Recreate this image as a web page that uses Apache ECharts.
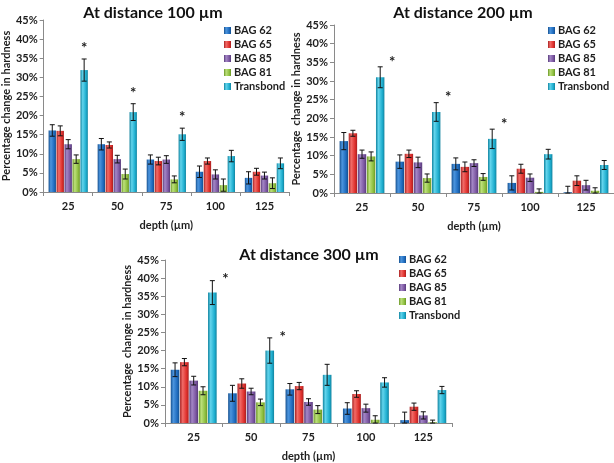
<!DOCTYPE html>
<html>
<head>
<meta charset="utf-8">
<script src="https://cdn.jsdelivr.net/npm/echarts@6/dist/echarts.min.js"></script>
<style>
  html, body { margin: 0; padding: 0; background: #fff; }
  #chart { width: 614px; height: 463px; }
</style>
</head>
<body>
<div id="chart"></div>
<script>
const depths = ["25", "50", "75", "100", "125"];
const groups = ["BAG 62", "BAG 65", "BAG 85", "BAG 81", "Transbond"];

// rows = groups, columns = depths
const mean100 = [
  [16.1, 12.5, 8.5, 5.3, 3.7],
  [16.0, 12.3, 8.1, 8.1, 5.3],
  [12.5, 8.6, 8.5, 4.6, 4.3],
  [8.6, 4.7, 3.3, 1.8, 2.3],
  [31.9, 20.9, 15.1, 9.4, 7.5]
];
const err100 = [
  [1.5, 1.5, 1.2, 1.5, 1.6],
  [1.3, 0.8, 1.0, 0.8, 0.9],
  [1.2, 1.0, 1.0, 1.2, 0.9],
  [1.1, 1.3, 0.9, 1.6, 1.4],
  [2.9, 2.2, 1.6, 1.5, 1.4]
];
const star100 = [1, 1, 1, 0, 0];

const mean200 = [
  [13.9, 8.4, 7.8, 2.7, 0.2],
  [16.0, 10.5, 7.0, 6.5, 3.3],
  [10.4, 8.2, 8.0, 4.1, 2.1],
  [9.8, 4.0, 4.3, 0.3, 0.6],
  [31.0, 21.7, 14.5, 10.4, 7.5]
];
const err200 = [
  [2.3, 1.8, 1.6, 1.9, 1.6],
  [0.8, 1.0, 1.3, 1.2, 1.3],
  [1.1, 1.4, 0.9, 1.0, 1.3],
  [1.2, 1.1, 0.9, 0.8, 0.8],
  [2.8, 2.5, 2.6, 1.3, 1.2]
];
const star200 = [1, 1, 1, 0, 0];

const mean300 = [
  [14.7, 8.2, 9.3, 4.0, 0.8],
  [16.8, 10.9, 10.2, 8.0, 4.5],
  [11.7, 8.7, 5.8, 4.1, 2.1],
  [8.9, 5.7, 3.7, 0.9, 0.2],
  [36.0, 20.0, 13.3, 11.2, 9.1]
];
const err300 = [
  [1.9, 2.2, 1.6, 1.6, 2.2],
  [1.0, 1.3, 1.0, 0.9, 1.0],
  [1.2, 0.9, 0.9, 1.1, 1.0],
  [1.1, 0.9, 1.1, 1.1, 0.6],
  [3.3, 3.5, 2.9, 1.3, 1.0]
];
const star300 = [1, 1, 0, 0, 0];

const FONT = "Lato";
const AXIS = "#8a8a8a";
const TXT = "#1e1e1e";
const BAR_GAP = 0.08;
const CAT_GAP = 0.2;

// [dark edge, highlight, base]
const colors = [
  ["#15508f", "#4c95de", "#1f6cbf"],
  ["#a82020", "#f26c68", "#df302c"],
  ["#573b7a", "#a487c6", "#7b56a1"],
  ["#6a9626", "#bde07c", "#8ebf3f"],
  ["#11839f", "#62d4ec", "#1eaecf"]
];

const panels = [
  {
    title: "At distance 100 µm", mean: mean100, err: err100, star: star100,
    grid: { left: 40, top: 20, width: 249, height: 172 },
    titleX: 148, titleY: 0,
    legend: { left: 219, top: 20 },
    yName: "Percentage change in hardness", yGap: 31,
    starDx: 0, starDy: 11
  },
  {
    title: "At distance 200 µm", mean: mean200, err: err200, star: star200,
    grid: { left: 334, top: 25, width: 280, height: 168 },
    titleX: 458, titleY: 0,
    legend: { left: 543, top: 20 },
    yName: "Percentage  change in hardness", yGap: 28,
    starDx: 12, starDy: 5
  },
  {
    title: "At distance 300 µm", mean: mean300, err: err300, star: star300,
    grid: { left: 165, top: 260, width: 287, height: 169 },
    titleX: 304, titleY: 242,
    legend: { left: 394, top: 249 },
    yName: "Percentage  change in hardness", yGap: 32,
    starDx: 13, starDy: 1
  }
];

function barColor(c) {
  return new echarts.graphic.LinearGradient(0, 0, 1, 0, [
    { offset: 0, color: c[0] },
    { offset: 0.3, color: c[1] },
    { offset: 0.75, color: c[2] },
    { offset: 1, color: c[0] }
  ]);
}

function errorRender(panel) {
  return function (params, api) {
    const cat = api.value(0);
    const v = api.value(1);
    const e = api.value(2);
    const s = api.value(3);
    const st = api.value(4);
    const band = api.size([1, 0])[0];
    const n = groups.length;
    const w = band * (1 - CAT_GAP) / (n + (n - 1) * BAR_GAP);
    const total = w * n + w * BAR_GAP * (n - 1);
    const dx = -total / 2 + s * w * (1 + BAR_GAP) + w / 2;
    const x = api.coord([cat, v])[0] + dx;
    const top = api.coord([cat, v + e])[1];
    const bot = api.coord([cat, Math.max(v - e, 0)])[1];
    const style = { stroke: "#111", lineWidth: 1 };
    const children = [
      { type: "line", shape: { x1: x, y1: top, x2: x, y2: bot }, style: style },
      { type: "line", shape: { x1: x - 2.5, y1: top, x2: x + 2.5, y2: top }, style: style },
      { type: "line", shape: { x1: x - 2.5, y1: bot, x2: x + 2.5, y2: bot }, style: style }
    ];
    if (st) {
      children.push({
        type: "text",
        style: {
          text: "*", x: x + panel.starDx, y: top - panel.starDy,
          fill: "#222", font: "bold 15px " + FONT,
          align: "center", verticalAlign: "middle"
        }
      });
    }
    return { type: "group", children: children };
  };
}

const option = {
  animation: false,
  backgroundColor: "#fff",
  title: [],
  legend: [],
  grid: [],
  xAxis: [],
  yAxis: [],
  series: []
};

panels.forEach((p, k) => {
  option.title.push({
    text: p.title, left: p.titleX, top: p.titleY, textAlign: "center",
    textStyle: { fontFamily: FONT, fontSize: 16, fontWeight: "bold", color: "#111" }
  });
  option.legend.push({
    data: groups, orient: "vertical", left: p.legend.left, top: p.legend.top,
    itemWidth: 7, itemHeight: 7, itemGap: 3, icon: "rect",
    textStyle: { fontFamily: FONT, fontSize: 11, fontWeight: "bold", color: TXT, padding: [0, 0, 0, -2] },
    selectedMode: false
  });
  option.grid.push(Object.assign({ containLabel: false }, p.grid));
  option.xAxis.push({
    type: "category", gridIndex: k, data: depths,
    name: "depth (µm)", nameLocation: "middle", nameGap: 28,
    nameTextStyle: { fontFamily: FONT, fontSize: 11, fontWeight: "bold", color: TXT },
    axisLine: { lineStyle: { color: AXIS } },
    axisTick: { show: true, length: 4, lineStyle: { color: AXIS } },
    axisLabel: { fontFamily: FONT, fontSize: 11, fontWeight: "bold", color: TXT, margin: 9 },
    splitLine: { show: false }
  });
  option.yAxis.push({
    type: "value", gridIndex: k, min: 0, max: 45, interval: 5,
    name: p.yName, nameLocation: "middle", nameGap: p.yGap,
    nameTextStyle: { fontFamily: FONT, fontSize: 11, fontWeight: "bold", color: TXT },
    axisLine: { show: true, lineStyle: { color: AXIS } },
    axisTick: { show: true, length: 4, lineStyle: { color: AXIS } },
    axisLabel: { formatter: "{value}%", fontFamily: FONT, fontSize: 11, fontWeight: "bold", color: TXT, margin: 6 },
    splitLine: { show: false }
  });
  groups.forEach((g, i) => {
    option.series.push({
      type: "bar", name: g, xAxisIndex: k, yAxisIndex: k,
      data: p.mean[i],
      barGap: (BAR_GAP * 100) + "%", barCategoryGap: (CAT_GAP * 100) + "%",
      itemStyle: { color: barColor(colors[i]) }
    });
  });
  const errData = [];
  groups.forEach((g, i) => {
    depths.forEach((d, j) => {
      errData.push([j, p.mean[i][j], p.err[i][j], i, i === groups.length - 1 ? p.star[j] : 0]);
    });
  });
  option.series.push({
    type: "custom", name: "err" + k, xAxisIndex: k, yAxisIndex: k,
    data: errData, encode: { x: 0, y: 1 }, z: 5, silent: true,
    renderItem: errorRender(p)
  });
});

const chart = echarts.init(document.getElementById("chart"));
chart.setOption(option);
</script>
</body>
</html>
